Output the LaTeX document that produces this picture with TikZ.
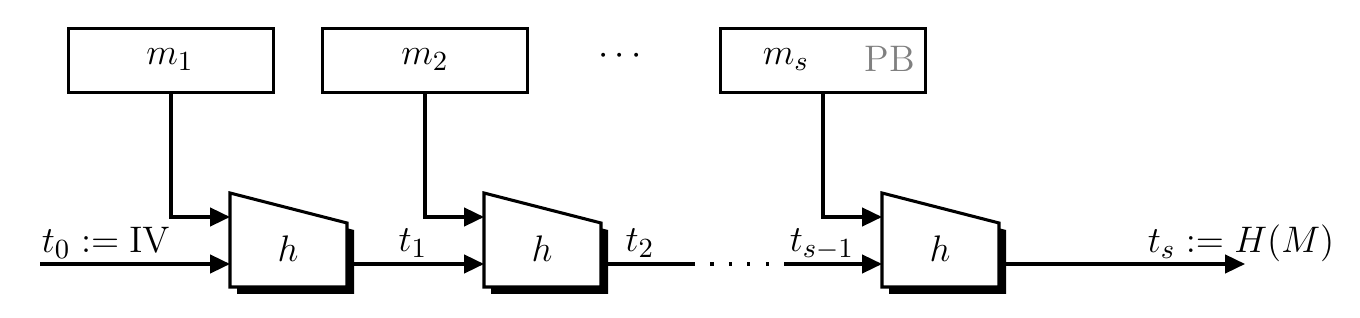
\documentclass[tikz,border=0pt]{standalone}
\usetikzlibrary{arrows.meta}
\DeclareMathSizes{12}{12}{8.6}{6.5}
\begin{document}
\begin{tikzpicture}[x=0.325pt,y=-0.325pt, line width=1pt,
  mbox/.style={draw, line width=1.15pt, minimum width=66.6pt, minimum height=20.8pt, inner sep=0pt},
  arr/.style={-{Triangle[length=6.5pt,width=6pt]}},
  lbl/.style={inner sep=0pt, anchor=base, font=\large}]
\useasboundingbox (0,0) rectangle (1360,318);
\foreach \o/\n in {0/1,254/2,652/3} {
  \fill[shift={(\o+7,7)}] (230,193) -- (347,223) -- (347,287) -- (230,287) -- cycle;
  \draw[fill=white, shift={(\o,0)}] (230,193) -- (347,223) -- (347,287) -- (230,287) -- cycle;
  \coordinate (a\n) at (\o+230,217);
  \coordinate (b\n) at (\o+230,264);
  \coordinate (c\n) at (\o+347,264);
  \node[lbl] (h\n) at (\o+288,262) {$h$};
  \node[mbox] (m\n) at (\o+171,60.5) {};
}
\node[lbl] (lm1) at (170,65) {$m_1$};
\node[lbl] (lm2) at (425,65) {$m_2$};
\node[lbl] (lms) at (786,65) {$m_s$};
\node[lbl, text=black!50] (pb) at (890,72) {PB};
\node[lbl] (dots) at (620,65) {$\cdots$};
\foreach \n in {1,2,3} \draw[arr] (m\n.south) |- (a\n);
\coordinate (start) at (40,264);
\draw[arr] (start) -- (b1);
\node[lbl] (t0) at (106,253) {$t_0 := \mathrm{IV}$};
\draw[arr] (c1) -- (b2);
\node[lbl] (t1) at (413,252) {$t_1$};
\coordinate (d1) at (692,264);
\coordinate (d2) at (787,264);
\draw (c2) -- (d1);
\node[lbl] (t2) at (640,252) {$t_2$};
\draw[dash pattern=on 1pt off 5pt] (d1) -- (d2);
\draw[arr] (d2) -- (b3);
\node[lbl] (ts1) at (822,252) {$t_{s-1}$};
\coordinate (e) at (1245,264);
\draw[arr] (c3) -- (e);
\node[lbl] (ts) at (1241,253) {$t_s := H(M)$};
\end{tikzpicture}
\end{document}
